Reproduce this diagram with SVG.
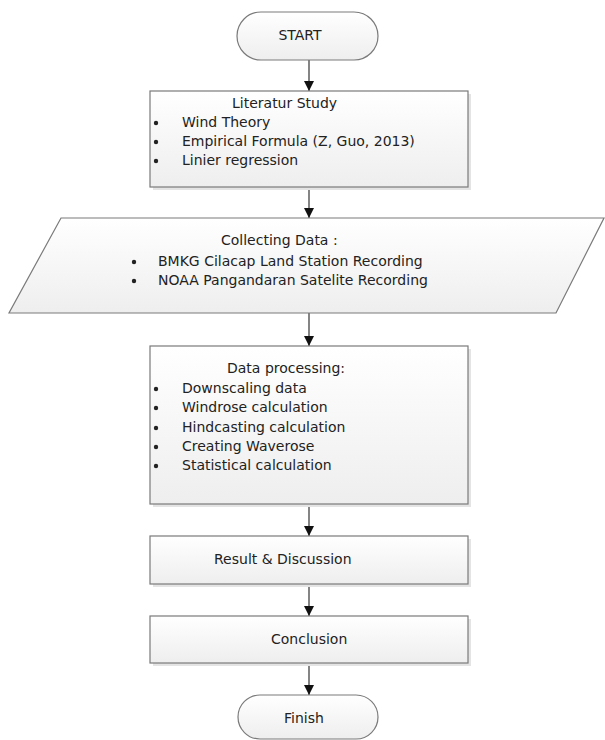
<svg xmlns="http://www.w3.org/2000/svg" width="605" height="740" viewBox="0 0 605 740">
<style>
.shape{fill:url(#g);stroke:#7a7a7a;stroke-width:1.2}
.shadow{fill:#e4e4e4}
.t{font-family:"DejaVu Sans",sans-serif;font-size:14px;fill:#222}
.c{text-anchor:middle}
.conn{stroke:#333;stroke-width:1.2;fill:none;marker-end:url(#ah)}
</style>
<defs>
<linearGradient id="g" x1="0" y1="0" x2="0" y2="1">
<stop offset="0" stop-color="#ffffff"/>
<stop offset="1" stop-color="#eeeeee"/>
</linearGradient>
<marker id="ah" viewBox="0 0 10 10" refX="10" refY="5" markerWidth="10" markerHeight="10" markerUnits="userSpaceOnUse" orient="auto">
<path d="M0,0 L10,5 L0,10 z" fill="#111"/>
</marker>
</defs>
<rect width="605" height="740" fill="#fff"/>

<g id="connectors">
<line class="conn" x1="309" y1="60" x2="309" y2="91"/>
<line class="conn" x1="309" y1="187" x2="309" y2="218"/>
<line class="conn" x1="309" y1="313" x2="309" y2="346"/>
<line class="conn" x1="309" y1="504" x2="309" y2="536"/>
<line class="conn" x1="309" y1="584" x2="309" y2="616"/>
<line class="conn" x1="309" y1="663" x2="309" y2="695"/>
</g>

<g id="start">
<rect x="237" y="12" width="141" height="48" rx="24" ry="24" class="shape"/>
<text class="t c" x="300" y="40" font-size="16.5">START</text>
</g>

<g id="literatur">
<rect x="153" y="94" width="318" height="96" class="shadow"/>
<rect x="150" y="91" width="318" height="96" class="shape"/>
<text class="t" x="232" y="108">Literatur Study</text>
<circle cx="156" cy="123" r="2.2" fill="#222"/>
<text class="t" x="182" y="127">Wind Theory</text>
<circle cx="156" cy="142" r="2.2" fill="#222"/>
<text class="t" x="182" y="146">Empirical Formula (Z, Guo, 2013)</text>
<circle cx="156" cy="161" r="2.2" fill="#222"/>
<text class="t" x="182" y="165">Linier regression</text>
</g>

<g id="collecting">
<polygon points="61,218 604,218 556,313 9,313" class="shape"/>
<text class="t" x="221" y="245">Collecting Data :</text>
<circle cx="134" cy="262" r="2.2" fill="#222"/>
<text class="t" x="158" y="266">BMKG Cilacap Land Station Recording</text>
<circle cx="134" cy="281" r="2.2" fill="#222"/>
<text class="t" x="158" y="285">NOAA Pangandaran Satelite Recording</text>
</g>

<g id="processing">
<rect x="153" y="349" width="318" height="158" class="shadow"/>
<rect x="150" y="346" width="318" height="158" class="shape"/>
<text class="t" x="227" y="373">Data processing:</text>
<circle cx="156" cy="389" r="2.2" fill="#222"/>
<text class="t" x="182" y="393">Downscaling data</text>
<circle cx="156" cy="408" r="2.2" fill="#222"/>
<text class="t" x="182" y="412">Windrose calculation</text>
<circle cx="156" cy="428" r="2.2" fill="#222"/>
<text class="t" x="182" y="432">Hindcasting calculation</text>
<circle cx="156" cy="447" r="2.2" fill="#222"/>
<text class="t" x="182" y="451">Creating Waverose</text>
<circle cx="156" cy="466" r="2.2" fill="#222"/>
<text class="t" x="182" y="470">Statistical calculation</text>
</g>

<g id="result">
<rect x="153" y="539" width="318" height="48" class="shadow"/>
<rect x="150" y="536" width="318" height="48" class="shape"/>
<text class="t" x="214" y="564">Result &amp; Discussion</text>
</g>

<g id="conclusion">
<rect x="153" y="619" width="318" height="47" class="shadow"/>
<rect x="150" y="616" width="318" height="47" class="shape"/>
<text class="t" x="271" y="644">Conclusion</text>
</g>

<g id="finish">
<rect x="238" y="695" width="140" height="44" rx="22" ry="22" class="shape"/>
<text class="t c" x="304" y="723" font-size="15">Finish</text>
</g>
</svg>
